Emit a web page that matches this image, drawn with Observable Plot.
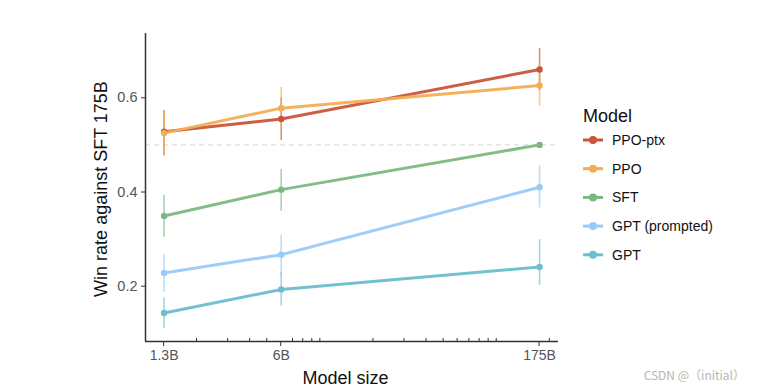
<!DOCTYPE html>
<html>
<head>
<meta charset="utf-8">
<script src="https://cdn.jsdelivr.net/npm/d3@7"></script>
<script src="https://cdn.jsdelivr.net/npm/@observablehq/plot@0.6"></script>
<style>
  body { margin: 0; background: #fff; }
  #chart { position: relative; width: 762px; height: 390px; }
</style>
</head>
<body>
<div id="chart"></div>
<script>
// ---- data ----
const models = ["PPO-ptx", "PPO", "SFT", "GPT (prompted)", "GPT"];
const colors = ["#c9553b", "#f2ae55", "#7bb881", "#9acaf8", "#6cbecd"];
const sizes = [1.3, 6, 175];              // billions of parameters
const sizeLabels = ["1.3B", "6B", "175B"];
const minorTicks = [2, 3, 4, 5, 7, 8, 9, 10, 20, 30, 40, 50, 60, 70, 80, 90, 100, 200];
const yTicks = [0.2, 0.4, 0.6];

const winPPOptx = [0.528, 0.555, 0.660];
const winPPO    = [0.525, 0.578, 0.626];
const winSFT    = [0.349, 0.405, 0.500];
const winGPTp   = [0.228, 0.267, 0.410];
const winGPT    = [0.143, 0.193, 0.241];

const loPPOptx = [0.477, 0.509, 0.615];
const hiPPOptx = [0.573, 0.600, 0.705];
const loPPO    = [0.477, 0.534, 0.582];
const hiPPO    = [0.573, 0.622, 0.670];
const loSFT    = [0.304, 0.359, 0.500];
const hiSFT    = [0.393, 0.448, 0.500];
const loGPTp   = [0.187, 0.223, 0.366];
const hiGPTp   = [0.267, 0.308, 0.455];
const loGPT    = [0.110, 0.158, 0.202];
const hiGPT    = [0.175, 0.230, 0.299];

const xDomain = [1.02, 224];
const yDomain = [0.0826, 0.7365];
const reference = 0.5;

// ---- table ----
const series = [
  [winPPOptx, loPPOptx, hiPPOptx],
  [winPPO, loPPO, hiPPO],
  [winSFT, loSFT, hiSFT],
  [winGPTp, loGPTp, hiGPTp],
  [winGPT, loGPT, hiGPT]
];
const rows = [];
models.forEach((m, i) => {
  sizes.forEach((s, j) => {
    rows.push({model: m, size: s, win: series[i][0][j], lo: series[i][1][j], hi: series[i][2][j]});
  });
});
const drawOrder = ["GPT", "GPT (prompted)", "SFT", "PPO-ptx", "PPO"];
const ordered = drawOrder.flatMap(m => rows.filter(r => r.model === m));
const xLabelRows = sizes.map((s, i) => ({size: s, label: sizeLabels[i]}));

const font = "Liberation Sans, Arial, Helvetica, sans-serif";

const chart = Plot.plot({
  width: 762,
  height: 390,
  marginLeft: 145,
  marginRight: 204,
  marginTop: 33,
  marginBottom: 49,
  style: {fontFamily: font, background: "#fff", overflow: "visible"},
  x: {type: "log", domain: xDomain, axis: null},
  y: {domain: yDomain, axis: null},
  color: {domain: models, range: colors},
  marks: [
    Plot.ruleY([reference], {stroke: "#d6d6d6", strokeDasharray: "5,4", strokeWidth: 1}),
    Plot.ruleX(ordered, {x: "size", y1: "lo", y2: "hi", stroke: "model", strokeWidth: 1.6, strokeOpacity: 0.65}),
    Plot.line(ordered, {x: "size", y: "win", z: "model", stroke: "model", strokeWidth: 3, strokeOpacity: 0.95}),
    Plot.dot(ordered, {x: "size", y: "win", fill: "model", r: 3.2}),
    Plot.ruleX([xDomain[0]], {stroke: "#333", strokeWidth: 1.5}),
    Plot.ruleY([yDomain[0]], {stroke: "#333", strokeWidth: 1.5}),
    Plot.axisY({ticks: yTicks, tickSize: 4, tickPadding: 4, tickFormat: d3.format(".1f"), color: "#555", stroke: "#333", label: null}),
    Plot.text(xLabelRows, {x: "size", text: "label", frameAnchor: "bottom", dy: 18, fill: "#555", fontSize: 14})
  ]
});
document.getElementById("chart").appendChild(chart);

const svg = d3.select(chart);
const xs = chart.scale("x");
const ys = chart.scale("y");
const x0 = xs.apply(xDomain[0]);
const x1 = xs.apply(xDomain[1]);
const yBottom = ys.apply(yDomain[0]);
const yTop = ys.apply(yDomain[1]);

// enlarge y tick labels
svg.selectAll("g[aria-label='y-axis tick label'] text").attr("font-size", 14.5);
svg.select("g[aria-label='y-axis tick label']").attr("font-size", 14.5);

// major x ticks (outside) and minor ticks (inside)
svg.append("g").selectAll("line").data(sizes).join("line")
  .attr("x1", d => xs.apply(d)).attr("x2", d => xs.apply(d))
  .attr("y1", yBottom).attr("y2", yBottom + 5)
  .attr("stroke", "#333").attr("stroke-width", 1);
svg.append("g").selectAll("line").data(minorTicks).join("line")
  .attr("x1", d => xs.apply(d)).attr("x2", d => xs.apply(d))
  .attr("y1", yBottom).attr("y2", yBottom - 3)
  .attr("stroke", "#333").attr("stroke-width", 1);

// axis titles
svg.append("text")
  .attr("x", (x0 + x1) / 2 - 6).attr("y", yBottom + 43)
  .attr("text-anchor", "middle")
  .attr("font-family", font).attr("font-size", 18).attr("fill", "#111")
  .text("Model size");
svg.append("text")
  .attr("transform", `translate(${x0 - 38},${(yTop + yBottom) / 2 + 2}) rotate(-90)`)
  .attr("text-anchor", "middle")
  .attr("font-family", font).attr("font-size", 18).attr("fill", "#111")
  .text("Win rate against SFT 175B");

// legend
const lg = svg.append("g").attr("transform", `translate(${x1 + 25},0)`).attr("text-anchor", "start");
lg.append("text").attr("x", 0).attr("y", 122).attr("text-anchor", "start")
  .attr("font-family", font).attr("font-size", 18).attr("fill", "#111")
  .text("Model");
models.forEach((m, i) => {
  const cy = 140 + i * 28.7;
  const g = lg.append("g");
  g.append("line").attr("x1", 0).attr("x2", 20).attr("y1", cy).attr("y2", cy)
    .attr("stroke", colors[i]).attr("stroke-width", 3);
  g.append("circle").attr("cx", 10).attr("cy", cy).attr("r", 4).attr("fill", colors[i]);
  g.append("text").attr("x", 29).attr("y", cy).attr("dy", "0.35em").attr("text-anchor", "start")
    .attr("font-family", font).attr("font-size", 14).attr("fill", "#111")
    .text(m);
});

// watermark
svg.append("text").attr("x", 745).attr("y", 380).attr("text-anchor", "end")
  .attr("font-family", "Noto Sans CJK SC, sans-serif").attr("font-size", 12).attr("fill", "#b5b5b5")
  .text("CSDN @（initial）");
</script>
</body>
</html>
